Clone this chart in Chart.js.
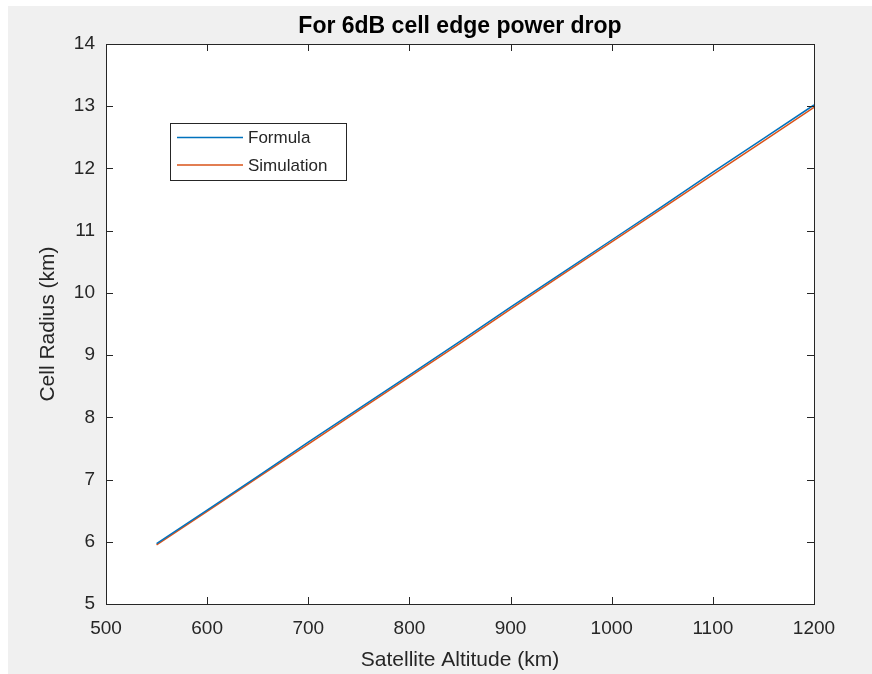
<!DOCTYPE html>
<html>
<head>
<meta charset="utf-8">
<title>Cell radius vs altitude</title>
<script src="https://cdn.jsdelivr.net/npm/chart.js@4"></script>
<style>
    body { margin: 0; background: #ffffff; }
    #wrap { position: absolute; left: 8px; top: 6px; width: 864px; height: 668px; background: #f0f0f0; }
    canvas { display: block; }
</style>
</head>
<body>
<div id="wrap"><canvas id="radiusChart" width="864" height="668"></canvas></div>
<script>
// Data
const altitude = [550, 600, 650, 700, 750, 800, 850, 900, 950, 1000, 1050, 1100, 1150, 1200];
const formulaRadius = [5.97, 6.51, 7.05, 7.60, 8.14, 8.68, 9.22, 9.77, 10.31, 10.85, 11.39, 11.94, 12.48, 13.02];
const simulationRadius = [5.95, 6.49, 7.03, 7.57, 8.11, 8.65, 9.19, 9.74, 10.28, 10.82, 11.36, 11.90, 12.44, 12.98];
const seriesNames = ['Formula', 'Simulation'];
const xTicks = [500, 600, 700, 800, 900, 1000, 1100, 1200];
const yTicks = [5, 6, 7, 8, 9, 10, 11, 12, 13, 14];

const axisColor = '#262626';
const fontFamily = '"Liberation Sans", Arial, Helvetica, sans-serif';

// MATLAB style white axes with a box and inward ticks
const boxPlugin = {
    id: 'boxPlugin',
    beforeDatasetsDraw(chart) {
        const { ctx, chartArea: a } = chart;
        ctx.save();
        ctx.fillStyle = '#ffffff';
        ctx.fillRect(a.left, a.top, a.right - a.left, a.bottom - a.top);
        ctx.restore();
    },
    afterDraw(chart) {
        const { ctx, chartArea: a, scales } = chart;
        ctx.save();
        ctx.strokeStyle = axisColor;
        ctx.lineWidth = 1;
        ctx.strokeRect(a.left + 0.5, a.top + 0.5, a.right - a.left, a.bottom - a.top);
        ctx.beginPath();
        xTicks.forEach(v => {
            const px = Math.round(scales.x.getPixelForValue(v)) + 0.5;
            ctx.moveTo(px, a.bottom); ctx.lineTo(px, a.bottom - 7);
            ctx.moveTo(px, a.top); ctx.lineTo(px, a.top + 7);
        });
        yTicks.forEach(v => {
            const py = Math.round(scales.y.getPixelForValue(v)) + 0.5;
            ctx.moveTo(a.left, py); ctx.lineTo(a.left + 7, py);
            ctx.moveTo(a.right, py); ctx.lineTo(a.right - 7, py);
        });
        ctx.stroke();

        // legend inside the axes
        const bx = 162, by = 117, bw = 176, bh = 57;
        ctx.fillStyle = '#ffffff';
        ctx.fillRect(bx, by, bw, bh);
        ctx.strokeStyle = axisColor;
        ctx.strokeRect(bx + 0.5, by + 0.5, bw, bh);
        ctx.font = '17px ' + fontFamily;
        ctx.textBaseline = 'middle';
        chart.data.datasets.forEach((ds, i) => {
            const y = by + 14.5 + i * 27.5;
            ctx.strokeStyle = ds.borderColor;
            ctx.lineWidth = 1.5;
            ctx.beginPath();
            ctx.moveTo(bx + 7, y); ctx.lineTo(bx + 73, y);
            ctx.stroke();
            ctx.fillStyle = axisColor;
            ctx.fillText(ds.label, bx + 78, y + 1);
        });
        ctx.restore();
    }
};

const ctx = document.getElementById('radiusChart');
new Chart(ctx, {
    type: 'line',
    data: {
        datasets: [
            {
                label: seriesNames[0],
                data: altitude.map((a, i) => ({ x: a, y: formulaRadius[i] })),
                borderColor: '#0072bd',
                borderWidth: 1.5,
                pointRadius: 0,
                fill: false
            },
            {
                label: seriesNames[1],
                data: altitude.map((a, i) => ({ x: a, y: simulationRadius[i] })),
                borderColor: '#d95319',
                borderWidth: 1.5,
                pointRadius: 0,
                fill: false
            }
        ]
    },
    options: {
        responsive: false,
        animation: false,
        layout: { padding: { left: 0, top: 0, right: 58, bottom: 0 } },
        plugins: {
            legend: { display: false },
            tooltip: { enabled: false },
            title: {
                display: true,
                fullSize: false,
                text: 'For 6dB cell edge power drop',
                color: '#000000',
                font: { family: fontFamily, size: 23, weight: 'bold' },
                padding: { top: 7, bottom: 3.4 }
            }
        },
        scales: {
            x: {
                type: 'linear',
                min: 500,
                max: 1200,
                afterFit(scale) { scale.height = 70; },
                afterBuildTicks(scale) { scale.ticks = xTicks.map(v => ({ value: v })); },
                grid: { display: false, drawTicks: false },
                border: { display: false },
                ticks: {
                    color: axisColor,
                    padding: 13,
                    maxRotation: 0,
                    font: { family: fontFamily, size: 19 },
                    callback: v => String(v)
                },
                title: {
                    display: true,
                    text: 'Satellite Altitude (km)',
                    color: axisColor,
                    font: { family: fontFamily, size: 21 },
                    padding: { top: 0, bottom: 1 }
                }
            },
            y: {
                min: 5,
                max: 14,
                afterFit(scale) { scale.width = 98; },
                afterBuildTicks(scale) { scale.ticks = yTicks.map(v => ({ value: v })); },
                grid: { display: false, drawTicks: false },
                border: { display: false },
                ticks: { color: axisColor, padding: 11, font: { family: fontFamily, size: 19 } },
                title: {
                    display: true,
                    text: 'Cell Radius (km)',
                    color: axisColor,
                    font: { family: fontFamily, size: 21 },
                    padding: { top: 28, bottom: 0 }
                }
            }
        }
    },
    plugins: [boxPlugin]
});
</script>
</body>
</html>
